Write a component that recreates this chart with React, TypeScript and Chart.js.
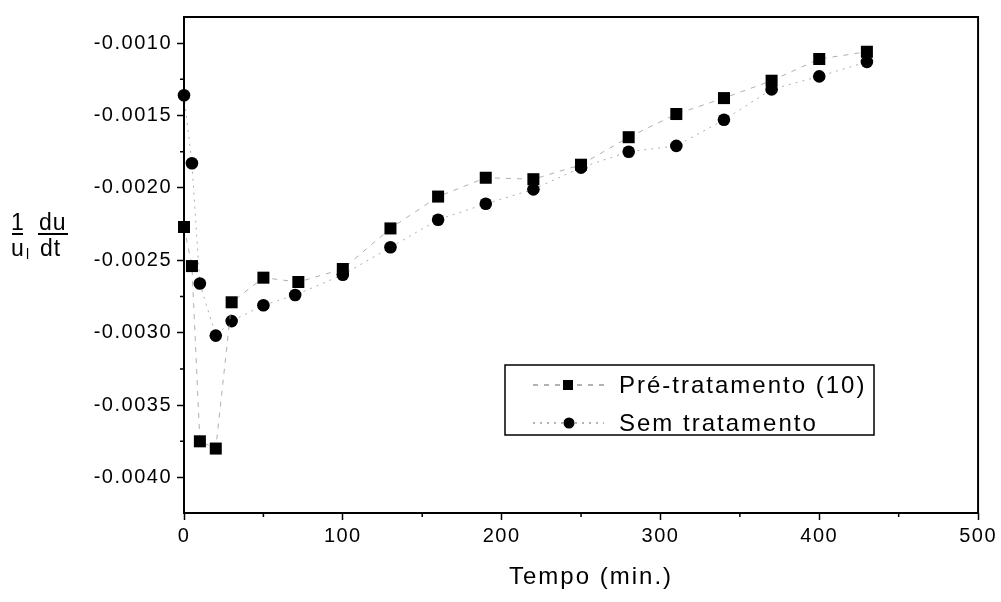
import React, { useEffect, useRef } from "react";
import { Chart, registerables } from "chart.js";

Chart.register(...registerables);

// ---- data ----
const preX = [0, 5, 10, 20, 30, 50, 72, 100, 130, 160, 190, 220, 250, 280, 310, 340, 370, 400, 430];
const preY = [-0.00227, -0.00254, -0.00375, -0.0038, -0.00279, -0.00262, -0.00265, -0.00256, -0.00228, -0.00206, -0.00193, -0.00194, -0.00184, -0.00165, -0.00149, -0.00138, -0.00126, -0.00111, -0.00106];
const semX = [0, 5, 10, 20, 30, 50, 70, 100, 130, 160, 190, 220, 250, 280, 310, 340, 370, 400, 430];
const semY = [-0.00136, -0.00183, -0.00266, -0.00302, -0.00292, -0.00281, -0.00274, -0.0026, -0.00241, -0.00222, -0.00211, -0.00201, -0.00186, -0.00175, -0.00171, -0.00153, -0.00132, -0.00123, -0.00113];

const xTicks = [0, 100, 200, 300, 400, 500];
const xMinor = [50, 150, 250, 350, 450];
const yTicks = [-0.004, -0.0035, -0.003, -0.0025, -0.002, -0.0015, -0.001];
const yMinor = [-0.00375, -0.00325, -0.00275, -0.00225, -0.00175, -0.00125];

const seriesNames = ["Pré-tratamento (10)", "Sem tratamento"];
const xTitle = "Tempo (min.)";

const FONT = '"Liberation Sans", Arial, sans-serif';
const preDash = [5, 6];
const semDash = [2, 5];
const lineColor = "#9a9a9a";

const setSpacing = (ctx: any, px: number) => {
  try {
    ctx.letterSpacing = px + "px";
  } catch (e) {}
};

const overlayPlugin = {
  id: "overlay",
  beforeLayout(chart: any) {
    setSpacing(chart.ctx, 1.5);
  },
  beforeDraw(chart: any) {
    setSpacing(chart.ctx, 1.5);
  },
  afterDraw(chart: any) {
    const ctx = chart.ctx;
    const a = chart.chartArea;
    const xs = chart.scales.x;
    const ys = chart.scales.y;
    ctx.save();
    // frame
    ctx.strokeStyle = "#000";
    ctx.lineWidth = 2;
    ctx.setLineDash([]);
    ctx.strokeRect(a.left, a.top, a.right - a.left, a.bottom - a.top);
    // minor ticks
    ctx.lineWidth = 1.5;
    ctx.beginPath();
    xMinor.forEach((v) => {
      const px = xs.getPixelForValue(v);
      ctx.moveTo(px, a.bottom);
      ctx.lineTo(px, a.bottom + 4);
    });
    yMinor.forEach((v) => {
      const py = ys.getPixelForValue(v);
      ctx.moveTo(a.left, py);
      ctx.lineTo(a.left - 4, py);
    });
    ctx.stroke();

    ctx.fillStyle = "#000";
    // x title
    setSpacing(ctx, 2);
    ctx.font = `24px ${FONT}`;
    ctx.textAlign = "center";
    ctx.textBaseline = "middle";
    ctx.fillText(xTitle, (a.left + a.right) / 2 + 10, 577);

    // y title as fraction: 1/u_l  du/dt
    setSpacing(ctx, 1);
    ctx.font = `23px ${FONT}`;
    ctx.textAlign = "left";
    ctx.textBaseline = "alphabetic";
    ctx.fillText("1", 11, 230);
    ctx.fillText("du", 39, 230);
    ctx.fillText("u", 11, 256);
    ctx.fillText("dt", 40, 256);
    ctx.font = `14px ${FONT}`;
    setSpacing(ctx, 0);
    ctx.fillText("l", 26, 259);
    ctx.lineWidth = 2;
    ctx.beginPath();
    ctx.moveTo(12, 234);
    ctx.lineTo(23, 234);
    ctx.moveTo(38, 234);
    ctx.lineTo(68, 234);
    ctx.stroke();

    // legend
    ctx.lineWidth = 1.5;
    ctx.strokeStyle = "#000";
    ctx.strokeRect(505, 365, 369, 70);
    const rows = [
      { y: 385, dash: preDash, style: "rect", label: seriesNames[0] },
      { y: 423, dash: semDash, style: "circle", label: seriesNames[1] },
    ];
    rows.forEach((r) => {
      ctx.strokeStyle = "#666";
      ctx.lineWidth = 1;
      ctx.setLineDash(r.dash);
      ctx.beginPath();
      ctx.moveTo(533, r.y);
      ctx.lineTo(604, r.y);
      ctx.stroke();
      ctx.setLineDash([]);
      ctx.fillStyle = "#000";
      if (r.style === "rect") {
        ctx.fillRect(563, r.y - 5, 10, 10);
      } else {
        ctx.beginPath();
        ctx.arc(569, r.y, 5.5, 0, Math.PI * 2);
        ctx.fill();
      }
      setSpacing(ctx, 2);
      ctx.font = `24px ${FONT}`;
      ctx.textAlign = "left";
      ctx.textBaseline = "middle";
      ctx.fillText(r.label, 619, r.y + 1);
    });
    ctx.restore();
  },
};

export default function App() {
  const ref = useRef<HTMLCanvasElement>(null);
  useEffect(() => {
    document.body.style.margin = "0";
    const canvas = ref.current!;
    const chart = new Chart(canvas, {
      type: "line",
      data: {
        datasets: [
          {
            label: seriesNames[0],
            data: preX.map((x, i) => ({ x, y: preY[i] })),
            borderColor: lineColor,
            borderWidth: 0.8,
            borderDash: preDash,
            pointStyle: "rect",
            pointRadius: 8.5,
            pointBackgroundColor: "#000",
            pointBorderColor: "#000",
            pointBorderWidth: 0,
            clip: false,
            fill: false,
            tension: 0,
          },
          {
            label: seriesNames[1],
            data: semX.map((x, i) => ({ x, y: semY[i] })),
            borderColor: lineColor,
            borderWidth: 0.8,
            borderDash: semDash,
            pointStyle: "circle",
            pointRadius: 6.3,
            pointBackgroundColor: "#000",
            pointBorderColor: "#000",
            pointBorderWidth: 0,
            clip: false,
            fill: false,
            tension: 0,
          },
        ],
      },
      options: {
        animation: false,
        responsive: false,
        devicePixelRatio: 1,
        layout: { padding: { top: 10, right: 21, left: 0, bottom: 0 } },
        plugins: { legend: { display: false }, tooltip: { enabled: false } },
        scales: {
          x: {
            type: "linear",
            min: 0,
            max: 500,
            afterBuildTicks: (s: any) => {
              s.ticks = xTicks.map((v) => ({ value: v }));
            },
            afterFit: (s: any) => {
              s.height = 89;
            },
            grid: {
              display: true,
              drawOnChartArea: false,
              drawTicks: true,
              tickLength: 7,
              tickColor: "#000",
              tickWidth: 1.5,
            },
            border: { display: false },
            ticks: {
              color: "#000",
              font: { family: FONT, size: 20 },
              padding: 4,
              maxRotation: 0,
              autoSkip: false,
              callback: (v: any) => String(v),
            },
          },
          y: {
            type: "linear",
            min: -0.004245,
            max: -0.00082,
            afterBuildTicks: (s: any) => {
              s.ticks = yTicks.map((v) => ({ value: v }));
            },
            afterFit: (s: any) => {
              s.width = 184;
            },
            grid: {
              display: true,
              drawOnChartArea: false,
              drawTicks: true,
              tickLength: 7,
              tickColor: "#000",
              tickWidth: 1.5,
            },
            border: { display: false },
            ticks: {
              color: "#000",
              font: { family: FONT, size: 20 },
              padding: 5,
              autoSkip: false,
              callback: (v: any) => Number(v).toFixed(4),
            },
          },
        },
      },
      plugins: [overlayPlugin],
    });
    return () => chart.destroy();
  }, []);
  return (
    <div style={{ position: "absolute", left: 0, top: 0, width: 1001, height: 602, background: "#fff" }}>
      <canvas ref={ref} width={1001} height={602} style={{ display: "block" }} />
    </div>
  );
}
